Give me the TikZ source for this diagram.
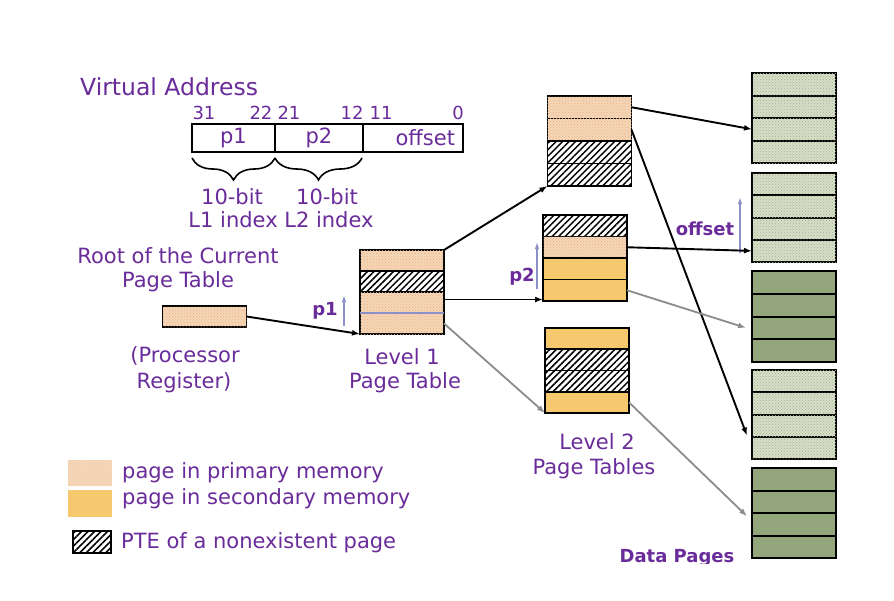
\documentclass[tikz,border=0pt]{standalone}
\usepackage{fontspec}
\setmainfont{DejaVu Sans}
\usetikzlibrary{arrows.meta,patterns,patterns.meta,decorations.pathreplacing,calc}
\definecolor{vpurple}{HTML}{6A2C9A}
\definecolor{peach}{HTML}{F6D6B6}
\definecolor{peachdot}{HTML}{E4B48C}
\definecolor{ssec}{HTML}{F7C96E}
\definecolor{dlightc}{HTML}{D6DEC8}
\definecolor{dlightdot}{HTML}{A8B494}
\definecolor{ddarkc}{HTML}{93A57A}
\definecolor{idxc}{HTML}{8C90C8}
\definecolor{grayarr}{HTML}{8C8C8C}
\newcommand\mktable[5]{\foreach \s [count=\i] in {#5} {\node[cell,\s,minimum height=#4 pt] (#1-\i) at (#2,{#3+(\i-0.5)*#4}) {};}}
\tikzset{
  cell/.style={draw=black, line width=1.6pt, minimum width=84pt, inner sep=0pt, outer sep=0pt},
  primary/.style={fill=peach, postaction={pattern=crosshatch dots, pattern color=peachdot}},
  secondary/.style={fill=ssec},
  hatch/.style={fill=white, postaction={pattern={Lines[angle=45,distance=4.6pt,line width=1.5pt]}, pattern color=black}},
  dlight/.style={fill=dlightc, postaction={pattern=crosshatch dots, pattern color=dlightdot}, line width=2pt},
  ddark/.style={fill=ddarkc, line width=2pt},
  field/.style={draw=black, line width=1.6pt, minimum height=28pt, inner sep=0pt, outer sep=0pt, text=vpurple, font=\fontsize{21}{25}\selectfont},
  lbl/.style={text=vpurple, font=\fontsize{21}{25}\selectfont, inner sep=0pt},
  bitlbl/.style={text=vpurple, font=\fontsize{18}{21}\selectfont, inner sep=0pt},
  boldlbl/.style={text=vpurple, font=\fontsize{18}{22}\selectfont\bfseries, inner sep=0pt},
  brc/.style={decorate, decoration={brace, mirror, amplitude=22pt, aspect=0.5}, line width=1.6pt},
  blkarrow/.style={draw=black, line width=1.9pt, -{Latex[length=8pt,width=6pt]}},
  grayarrow/.style={draw=grayarr, line width=1.8pt, -{Latex[length=8pt,width=6pt]}},
  idxarrow/.style={draw=idxc, line width=1.3pt, -{Latex[length=7pt,width=4.5pt]}},
}
\begin{document}
\begin{tikzpicture}[x=1pt,y=-1pt]
\useasboundingbox (0,0) rectangle (894,600);
\fill[white] (0,0) rectangle (894,600);

% Virtual address
\node[lbl, anchor=west, font=\fontsize{23.5}{27}\selectfont] (va) at (80,87) {Virtual Address};
\node[bitlbl] (b31) at (204,113) {31};
\node[bitlbl] (b22) at (261,113) {22};
\node[bitlbl] (b21) at (289,113) {21};
\node[bitlbl] (b12) at (352,113) {12};
\node[bitlbl] (b11) at (381,113) {11};
\node[bitlbl] (b0) at (458,113) {0};
\node[field, minimum width=83pt] (fp1) at (233.5,138) {p1};
\node[field, minimum width=88pt] (fp2) at (319,138) {p2};
\node[field, minimum width=100pt, inner xsep=8pt, text width=84pt, align=right] (foff) at (413,138) {offset};
\draw[brc] ($(fp1.south west)+(0,6)$) -- ($(fp1.south east)+(0,6)$);
\draw[brc] ($(fp2.south west)+(0,6)$) -- ($(fp2.south east)+(-1,6)$);
\node[lbl] (bit1) at (232,197) {10-bit};
\node[lbl] (bit2) at (327,197) {10-bit};
\node[lbl] (idx) at (281,220) {L1 index L2 index};

% Root register
\node[lbl] (root1) at (178,256) {Root of the Current};
\node[lbl] (root2) at (178,282) {Page Table};
\node[cell, primary, minimum height=21pt] (reg) at (204.5,316.5) {};
\node[lbl] (proc1) at (185,356) {(Processor};
\node[lbl] (proc2) at (184,383) {Register)};

% Level 1 table
\mktable{L1}{402}{250}{21}{primary,hatch,primary,primary}
\draw[draw=idxc, line width=1.2pt] (L1-4.north west) -- (L1-4.north east);
\node[lbl] (lv1a) at (402,357) {Level 1};
\node[lbl] (lv1b) at (405,383) {Page Table};
\node[boldlbl] (p1l) at (325,311) {p1};
\coordinate (p1s) at (344,326);
\coordinate (p1e) at (344,295);
\draw[idxarrow] (p1s) -- (p1e);

% Level 2 tables
\mktable{A}{589.5}{96}{22.5}{primary,primary,hatch,hatch}
\mktable{B}{585}{215}{21.5}{hatch,primary,secondary,secondary}
\mktable{C}{587}{328}{21.25}{secondary,hatch,hatch,secondary}
\node[lbl] (lv2a) at (597,442) {Level 2};
\node[lbl] (lv2b) at (594,469) {Page Tables};
\node[boldlbl] (p2l) at (522,277) {p2};
\coordinate (p2s) at (537,289);
\coordinate (p2e) at (537,242);
\draw[idxarrow] (p2s) -- (p2e);

% Data pages
\mktable{D1}{794}{73}{22.5}{dlight,dlight,dlight,dlight}
\mktable{D2}{794}{173}{22.25}{dlight,dlight,dlight,dlight}
\mktable{D3}{794}{271}{22.75}{ddark,ddark,ddark,ddark}
\mktable{D4}{794}{370}{22.25}{dlight,dlight,dlight,dlight}
\mktable{D5}{794}{468}{22.5}{ddark,ddark,ddark,ddark}
\node[boldlbl] (offl) at (705,229) {offset};
\coordinate (offs) at (740,253);
\coordinate (offe) at (740,197);
\draw[idxarrow] (offs) -- (offe);
\begin{scope}
\clip (600,540) rectangle (760,563);
\node[boldlbl] (dp) at (677,558) {Data Pages};
\end{scope}

% connectors
\coordinate (l1b) at ($(L1-3.east)+(0,-3)$);
\draw[blkarrow] (reg.east) -- (L1-4.south west);
\draw[blkarrow] (L1-1.north east) -- (A-4.south west);
\draw[blkarrow] (l1b) -- (l1b -| B-4.west);
\draw[grayarrow] (L1-4.east) -- (C-4.south west);
\draw[blkarrow] (A-1.east) -- (D1-3.west);
\draw[blkarrow] (A-2.east) -- ($(D4-3.west)+(-5,10)$);
\draw[blkarrow] (B-2.east) -- (D2-4.west);
\draw[grayarrow] (B-4.east) -- ($(D3-3.west)+(-6,0)$);
\draw[grayarrow] (C-4.east) -- ($(D5-3.west)+(-5,-8)$);

% legend
\fill[peach] (68,460) rectangle (112,486);
\pattern[pattern=crosshatch dots, pattern color=peachdot!70] (68,460) rectangle (112,486);
\fill[ssec] (68,490) rectangle (112,517);
\node[cell, hatch, minimum width=38pt, minimum height=22pt] (lh) at (92,542) {};
\node[lbl, anchor=west] (leg1) at (122,473) {page in primary memory};
\node[lbl, anchor=west] (leg2) at (122,499) {page in secondary memory};
\node[lbl, anchor=west] (leg3) at (121,543) {PTE of a nonexistent page};
\end{tikzpicture}
\end{document}
